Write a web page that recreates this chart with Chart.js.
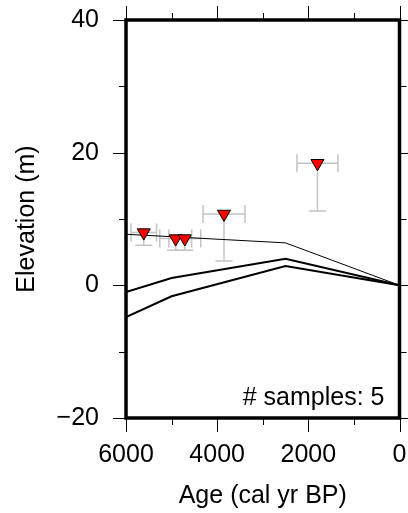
<!DOCTYPE html>
<html>
<head>
<meta charset="utf-8">
<script src="https://cdn.jsdelivr.net/npm/chart.js@4/dist/chart.umd.min.js"></script>
<style>
  html, body { margin: 0; padding: 0; background: #fff; }
  canvas { display: block; }
</style>
</head>
<body>
<canvas id="chart" width="408" height="513"></canvas>
<script>
/* ============================================================
   Sea-level samples vs. model curves
   ============================================================ */

// Samples (inverted triangles)
const sampleAge = [5610, 4910, 4710, 3850, 1800];
const sampleElev = [7.95, 7.05, 7.05, 10.75, 18.4];
const sampleAgeErr = [280, 350, 350, 460, 450];
const sampleElevLow = [6.05, 5.3, 5.3, 3.65, 11.2];

// Model curves
const thinAge = [6000, 2500, 0];
const thinElev = [7.7, 6.4, 0];
const curveAge = [6000, 5000, 2500, 0];
const curveMidElev = [-1.0, 1.1, 4.0, 0];
const curveLowElev = [-4.8, -1.65, 2.9, 0];

// Axis ticks
const xMajor = [6000, 4000, 2000, 0];
const xMinor = [5000, 3000, 1000];
const yMajor = [-20, 0, 20, 40];
const yMinor = [-10, 10, 30];

const sampleCount = sampleAge.length;
const FONT = 'Liberation Sans, Arial, Helvetica, sans-serif';

const toXY = (xs, ys) => xs.map((x, i) => ({ x, y: ys[i] }));
const fmtNum = v => v < 0 ? '\u2212' + Math.abs(v) : String(v);

// Gray error bars: horizontal age error, downward elevation error
const errorBars = {
  id: 'errorBars',
  beforeDatasetsDraw(chart) {
    const { ctx, scales: { x, y } } = chart;
    ctx.save();
    ctx.strokeStyle = '#c4c4c4';
    ctx.lineWidth = 1.5;
    sampleAge.forEach((age, i) => {
      const px = x.getPixelForValue(age);
      const py = y.getPixelForValue(sampleElev[i]);
      const x0 = x.getPixelForValue(age + sampleAgeErr[i]);
      const x1 = x.getPixelForValue(age - sampleAgeErr[i]);
      const yLow = y.getPixelForValue(sampleElevLow[i]);
      ctx.beginPath();
      ctx.moveTo(x0, py); ctx.lineTo(x1, py);
      ctx.moveTo(x0, py - 9); ctx.lineTo(x0, py + 9);
      ctx.moveTo(x1, py - 9); ctx.lineTo(x1, py + 9);
      ctx.moveTo(px, py); ctx.lineTo(px, yLow);
      ctx.moveTo(px - 8.5, yLow); ctx.lineTo(px + 8.5, yLow);
      ctx.stroke();
    });
    ctx.restore();
  }
};

// GMT-like frame with outward ticks on all four sides
const frame = {
  id: 'frame',
  afterDraw(chart) {
    const { ctx, chartArea: a, scales: { x, y } } = chart;
    ctx.save();
    ctx.strokeStyle = '#000';
    ctx.lineWidth = 1;
    ctx.beginPath();
    const vTick = (v, len) => {
      const px = Math.round(x.getPixelForValue(v)) + 0.5;
      ctx.moveTo(px, a.top); ctx.lineTo(px, a.top - len);
      ctx.moveTo(px, a.bottom); ctx.lineTo(px, a.bottom + len);
    };
    const hTick = (v, len) => {
      const py = Math.round(y.getPixelForValue(v)) + 0.5;
      ctx.moveTo(a.left, py); ctx.lineTo(a.left - len, py);
      ctx.moveTo(a.right, py); ctx.lineTo(a.right + len, py);
    };
    xMajor.forEach(v => vTick(v, 14));
    xMinor.forEach(v => vTick(v, 7));
    yMajor.forEach(v => hTick(v, 13));
    yMinor.forEach(v => hTick(v, 7));
    ctx.stroke();

    ctx.lineWidth = 3.5;
    ctx.strokeRect(a.left, a.top, a.right - a.left, a.bottom - a.top);

    ctx.fillStyle = '#000';
    ctx.font = '25px ' + FONT;
    ctx.textAlign = 'right';
    ctx.textBaseline = 'alphabetic';
    ctx.fillText('# samples: ' + sampleCount, a.right - 15, a.bottom - 13);
    ctx.restore();
  }
};

const tickFont = { family: FONT, size: 25 };

new Chart(document.getElementById('chart'), {
  type: 'scatter',
  data: {
    datasets: [
      {
        label: 'samples',
        data: toXY(sampleAge, sampleElev),
        pointStyle: 'triangle',
        rotation: 180,
        pointRadius: 7.5,
        backgroundColor: '#ff0000',
        borderColor: '#000',
        borderWidth: 1
      },
      {
        label: 'upper',
        data: toXY(thinAge, thinElev),
        showLine: true,
        borderColor: '#000',
        borderWidth: 1,
        pointRadius: 0,
        tension: 0
      },
      {
        label: 'mid',
        data: toXY(curveAge, curveMidElev),
        showLine: true,
        borderColor: '#000',
        borderWidth: 2,
        pointRadius: 0,
        tension: 0
      },
      {
        label: 'low',
        data: toXY(curveAge, curveLowElev),
        showLine: true,
        borderColor: '#000',
        borderWidth: 2,
        pointRadius: 0,
        tension: 0
      }
    ]
  },
  options: {
    responsive: false,
    animation: false,
    devicePixelRatio: 1,
    layout: { padding: { top: 20, right: 6, left: 0, bottom: 0 } },
    plugins: {
      legend: { display: false },
      tooltip: { enabled: false }
    },
    scales: {
      x: {
        type: 'linear',
        min: 0,
        max: 6000,
        reverse: true,
        border: { display: false },
        grid: { display: false, drawTicks: false },
        ticks: {
          stepSize: 2000,
          color: '#000',
          font: tickFont,
          padding: 22,
          maxRotation: 0,
          autoSkip: false,
          callback: v => fmtNum(v)
        },
        title: {
          display: true,
          text: 'Age (cal yr BP)',
          color: '#000',
          font: tickFont,
          padding: { top: 0, bottom: 2 }
        },
        afterFit: s => { s.height = 95; s.paddingLeft = 0; s.paddingRight = 0; }
      },
      y: {
        type: 'linear',
        min: -20,
        max: 40,
        border: { display: false },
        grid: { display: false, drawTicks: false },
        ticks: {
          stepSize: 20,
          color: '#000',
          font: tickFont,
          padding: 27,
          callback: v => fmtNum(v)
        },
        title: {
          display: true,
          text: 'Elevation (m)',
          color: '#000',
          font: tickFont,
          padding: { top: 12, bottom: 0 }
        },
        afterFit: s => { s.width = 126; s.paddingTop = 0; s.paddingBottom = 0; }
      }
    }
  },
  plugins: [errorBars, frame]
});
</script>
</body>
</html>
